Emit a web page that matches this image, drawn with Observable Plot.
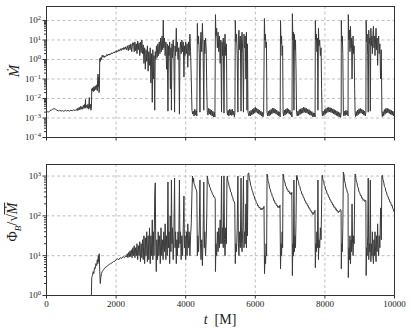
<!DOCTYPE html>
<html>
<head>
<meta charset="utf-8">
<script src="https://cdn.jsdelivr.net/npm/d3@7"></script>
<script src="https://cdn.jsdelivr.net/npm/@observablehq/plot@0.6"></script>
<style>
  body { margin: 0; background: #fff; }
  #wrap { position: relative; width: 412px; height: 333px; background: #fff; overflow: hidden; }
  #wrap svg { display: block; }
  .lab { position: absolute; font-family: "Liberation Serif", "DejaVu Serif", serif; color: #222; white-space: nowrap; }
  .rot { transform: translate(-50%, -50%) rotate(-90deg); }
  .ctr { transform: translate(-50%, -50%); }
</style>
</head>
<body>
<div id="wrap">
  <div id="top"></div>
  <div id="bot"></div>
  <div class="lab rot" style="left:14px;top:71px;font-size:15px;"><i>Ṁ</i></div>
  <div class="lab rot" style="left:14px;top:222px;font-size:14px;">Φ<sub style="font-size:9px;"><i>B</i></sub>/√<span style="border-top:1px solid #222;"><i>Ṁ</i></span></div>
  <div class="lab ctr" style="left:220px;top:320px;font-size:14px;"><i>t</i>&nbsp;&nbsp;[M]</div>
</div>
<script>
// ---- tick values / labels ----
const xTicks = [0, 2000, 4000, 6000, 8000, 10000];
const mdotTicks = [1e-4, 1e-3, 1e-2, 1e-1, 1, 10, 100];
const mdotTickExponents = ["−4", "−3", "−2", "−1", "0", "1", "2"];
const phiTicks = [1, 10, 100, 1000];
const phiTickExponents = ["0", "1", "2", "3"];

// ---- accretion rate: [t, log10(Mdot)] ----
const mdotSeries = [
[0,-2.72],[30,-2.68],[60,-2.7],[100,-2.62],[140,-2.6],[180,-2.55],[220,-2.52],[260,-2.55],[300,-2.6],[340,-2.64],[380,-2.6],[420,-2.65],[460,-2.62],[500,-2.66],[540,-2.6],[580,-2.64],[620,-2.61],[660,-2.65],[700,-2.6],[740,-2.63],[780,-2.58],[820,-2.62],[860,-2.55],[880,-2.62],[900,-2.5],[920,-2.6],[940,-2.45],[960,-2.58],[980,-2.4],[1000,-2.55],[1020,-2.42],[1040,-2.55],[1060,-2.35],[1080,-2.5],[1100,-2.3],[1110,-2.5],[1120,-2.05],[1130,-2.45],[1150,-2.35],[1170,-2.5],[1190,-2.3],[1210,-2.55],[1230,-1.95],[1240,-2.5],[1260,-2.3],[1275,-2.6],[1290,-2.5],
[1300,-1.5],[1315,-1.6],[1330,-1.45],[1345,-1.65],[1360,-1.4],[1380,-1.6],[1400,-1.35],[1420,-1.55],[1440,-1.3],[1460,-1.6],[1470,-1.1],[1480,-0.75],[1490,-1.4],[1500,-0.9],[1510,-1.7],[1520,-1.5],[1530,0.05],[1545,-0.1],[1560,0.1],[1580,0.0],[1600,0.22],[1620,0.12],[1640,0.2],[1660,0.1],[1680,0.18],[1700,0.14],[1725,0.25],[1750,0.18],[1775,0.28],[1800,0.22],[1825,0.3],[1850,0.26],[1875,0.34],[1900,0.3],[1925,0.38],[1950,0.33],[1975,0.42],[2000,0.36],[2025,0.46],[2050,0.4],[2075,0.5],[2100,0.43],[2125,0.55],[2150,0.46],[2175,0.58],[2200,0.5],[2225,0.62],[2250,0.52],[2275,0.65],[2300,0.5],[2325,0.7],[2350,0.45],[2375,0.75],[2400,0.5],[2425,0.8],[2450,0.4],[2475,0.85],
[2500,0.85],[2520,0.4],[2540,0.9],[2560,0.45],[2580,0.8],[2600,0.3],[2620,0.95],[2640,0.5],[2660,0.85],[2680,0.2],[2700,0.9],[2720,0.35],[2740,1.0],[2760,0.3],[2780,0.75],[2800,-0.2],[2820,0.6],[2840,-0.5],[2860,0.5],[2880,-0.1],[2900,0.7],[2920,-0.6],[2940,0.4],[2960,-0.3],[2980,0.6],[3000,-1.2],[3020,0.3],[3040,-2.2],[3055,0.5],[3070,-1.0],[3090,0.2],[3110,-2.6],[3125,0.4],[3140,0.0],[3160,0.7],[3180,0.1],[3200,0.8],[3220,0.2],[3240,0.9],[3260,0.3],[3280,1.1],[3300,0.4],[3320,1.2],[3340,0.5],[3355,2.0],[3370,0.6],[3390,1.1],[3410,0.2],[3430,0.9],[3450,-0.5],[3470,0.8],[3490,-2.65],[3505,0.7],[3520,0.2],[3540,0.9],[3560,-1.5],[3575,0.6],[3590,-2.6],[3605,0.8],[3620,0.1],[3640,1.0],[3660,0.3],[3680,-2.7],[3695,0.7],[3710,0.2],[3730,1.6],[3745,0.4],[3760,0.9],[3780,0.0],[3800,0.6],[3820,-2.8],[3835,0.5],[3850,0.9],[3870,0.3],[3890,1.0],[3910,0.4],[3930,0.9],[3950,-0.9],[3965,0.7],[3980,0.2],[4000,0.9],[4020,0.3],[4040,0.8],[4060,-0.4],[4080,0.9],[4100,0.2],[4120,1.3],[4140,0.4],[4160,-1.0],[4180,-2.6],[4200,-2.8],
[4220,-2.65],[4240,-2.9],[4260,-2.55],[4280,-2.85],[4300,-2.6],[4320,-2.9],
[4335,1.85],[4350,0.8],[4370,1.2],[4390,0.3],[4410,-2.7],[4425,0.9],[4440,1.4],[4460,0.4],[4480,1.85],[4500,0.6],[4520,-2.6],[4535,1.0],[4550,0.3],[4570,1.1],[4590,0.5],[4605,-1.5],[4620,-2.7],
[4640,-2.85],[4660,-2.5],[4680,-2.8],[4700,-2.55],[4720,-2.85],[4740,-2.6],[4760,-2.9],[4780,-2.65],[4800,-2.95],[4820,-2.7],[4840,-2.95],
[4855,2.3],[4870,1.2],[4890,1.6],[4910,0.6],[4930,1.4],[4950,0.4],[4970,1.2],[4990,-0.2],[5010,1.0],[5030,-2.7],[5045,0.9],[5060,0.2],[5080,1.1],[5100,-2.75],[5115,0.7],[5130,1.3],[5150,0.2],[5170,0.8],[5185,-2.6],
[5200,-2.85],[5220,-2.6],[5240,-2.9],[5260,-2.55],[5280,-2.85],[5300,-2.57],[5320,-2.87],[5340,-2.55],[5360,-2.85],[5380,-2.65],[5400,-2.95],[5415,-2.7],
[5425,2.0],[5440,0.9],[5460,1.3],[5480,0.2],[5500,-2.7],[5515,1.1],[5530,1.5],[5550,0.5],[5570,1.2],[5590,-2.65],[5605,1.0],[5620,1.4],[5640,0.3],[5660,-2.7],[5675,1.3],[5690,0.6],[5710,1.2],[5730,-1.0],[5745,1.4],[5760,-2.6],[5775,0.8],[5790,-2.7],
[5820,-2.9],[5840,-2.65],[5860,-2.9],[5880,-2.6],[5900,-2.85],[5920,-2.55],[5940,-2.8],[5960,-2.5],[5980,-2.75],[6000,-2.45],[6020,-2.7],[6040,-2.5],[6060,-2.75],[6080,-2.55],[6100,-2.8],[6120,-2.6],[6140,-2.85],[6160,-2.65],[6180,-2.9],[6200,-2.7],[6220,-2.95],[6240,-2.75],
[6262,2.1],[6275,1.0],[6290,1.3],[6305,0.6],[6320,0.9],[6335,-2.7],
[6355,-2.9],[6375,-2.65],[6395,-2.9],[6415,-2.6],[6435,-2.85],[6455,-2.55],[6475,-2.8],[6495,-2.5],[6515,-2.75],[6535,-2.5],[6555,-2.75],[6575,-2.55],[6595,-2.8],[6615,-2.6],[6635,-2.85],[6655,-2.65],[6675,-2.9],[6695,-2.7],[6715,-2.95],
[6725,2.0],[6740,0.8],[6755,1.2],[6770,0.2],[6785,0.7],[6798,-2.7],
[6815,-2.9],[6835,-2.6],[6855,-2.85],[6875,-2.55],[6895,-2.8],[6915,-2.5],[6935,-2.75],[6955,-2.55],[6975,-2.8],[6995,-2.6],[7015,-2.85],[7035,-2.7],[7055,-2.95],
[7065,2.35],[7080,1.0],[7095,1.4],[7110,-2.6],[7125,1.3],[7140,0.5],[7155,1.0],[7170,-0.5],[7185,-2.7],
[7205,-2.9],[7225,-2.65],[7245,-2.87],[7265,-2.57],[7285,-2.83],[7305,-2.53],[7325,-2.77],[7345,-2.5],[7365,-2.75],[7385,-2.45],[7405,-2.71],[7425,-2.47],[7445,-2.73],[7465,-2.5],[7485,-2.75],[7505,-2.55],[7525,-2.8],[7545,-2.57],[7565,-2.85],[7585,-2.63],[7605,-2.87],[7625,-2.67],[7645,-2.93],[7665,-2.73],[7685,-2.95],[7705,-2.75],[7718,-2.95],
[7725,2.0],[7740,1.0],[7755,1.3],[7770,0.4],[7785,1.1],[7800,-2.6],[7815,1.6],[7830,0.7],[7850,1.0],[7870,0.2],[7890,0.6],[7905,-1.5],[7918,-2.7],
[7930,-2.9],[7950,-2.65],[7970,-2.87],[7990,-2.57],[8010,-2.81],[8030,-2.51],[8050,-2.75],[8070,-2.47],[8090,-2.71],[8110,-2.45],[8130,-2.69],[8150,-2.47],[8170,-2.71],[8190,-2.5],[8210,-2.75],[8230,-2.53],[8250,-2.79],[8270,-2.57],[8290,-2.83],[8310,-2.61],[8330,-2.87],[8350,-2.65],[8370,-2.91],[8390,-2.69],[8410,-2.95],[8430,-2.73],[8450,-2.97],[8468,-2.75],
[8472,2.0],[8485,0.9],[8500,1.2],[8515,0.3],[8530,-2.7],
[8545,-2.9],[8565,-2.65],[8585,-2.87],[8605,-2.6],[8625,-2.83],[8645,-2.63],[8665,-2.9],
[8672,2.3],[8690,1.0],[8705,1.5],[8720,0.4],[8735,1.7],[8750,0.6],[8765,1.1],[8780,-1.0],[8795,0.8],[8810,1.2],[8825,0.3],[8840,0.7],[8855,-1.5],[8868,-2.7],
[8880,-2.93],[8900,-2.67],[8920,-2.89],[8940,-2.59],[8960,-2.83],[8980,-2.53],[9000,-2.77],[9020,-2.51],[9040,-2.75],[9060,-2.55],[9080,-2.79],[9100,-2.59],[9120,-2.85],[9140,-2.65],[9160,-2.9],[9178,-2.7],
[9185,2.0],[9200,0.9],[9215,1.3],[9230,0.2],[9245,-2.7],[9260,1.5],[9275,0.8],[9290,1.1],[9305,-2.65],[9320,1.6],[9335,0.7],[9350,1.2],[9365,0.3],[9380,1.3],[9395,1.7],[9410,0.6],[9425,1.2],[9440,0.2],[9455,1.0],[9470,1.6],[9485,0.5],[9500,1.1],[9515,-0.3],[9530,0.9],[9545,1.2],[9560,0.3],[9580,0.8],[9600,-1.0],[9620,0.5],[9638,-2.7],
[9650,-2.93],[9670,-2.67],[9690,-2.89],[9710,-2.57],[9730,-2.81],[9750,-2.51],[9770,-2.75],[9790,-2.5],[9810,-2.73],[9830,-2.53],[9850,-2.77],[9870,-2.57],[9890,-2.81],[9910,-2.61],[9930,-2.85],[9950,-2.65],[9970,-2.9],[9990,-2.67],[10000,-2.85]
];

// ---- normalised flux: [t, log10(Phi_B / sqrt(Mdot))] ----
const phiSeries = [
[1290,0.0],[1300,0.45],[1320,0.5],[1340,0.6],[1360,0.55],[1380,0.7],[1400,0.68],[1420,0.8],[1440,0.75],[1460,0.9],[1475,0.8],[1490,1.0],[1500,0.85],[1515,1.05],[1530,0.6],[1545,0.3],[1560,0.45],[1580,0.55],[1600,0.6],[1640,0.65],[1680,0.7],[1720,0.72],[1760,0.75],[1800,0.78],[1840,0.8],[1880,0.82],[1920,0.85],[1960,0.86],[2000,0.9],[2040,0.92],[2080,0.9],[2120,0.95],[2160,0.93],[2200,0.98],[2240,0.95],[2280,1.0],[2300,0.97],
[2320,1.05],[2340,0.95],[2360,1.08],[2380,0.97],[2400,1.12],[2420,0.98],[2440,1.15],[2460,0.95],[2480,1.2],[2500,1.0],[2520,1.25],[2540,0.95],[2560,1.2],[2580,1.0],[2600,1.3],[2620,0.9],[2640,1.25],[2660,1.0],[2680,1.35],[2700,0.85],[2720,1.3],[2740,0.95],[2760,1.4],[2780,0.9],[2800,1.5],[2820,0.8],[2840,1.45],[2860,1.0],[2880,1.6],[2900,0.85],[2920,1.5],[2940,0.9],[2960,1.7],[2980,0.8],[3000,1.5],[3020,1.0],[3040,1.9],[3055,0.9],[3070,1.6],[3090,1.0],[3110,2.5],[3125,2.83],[3140,1.2],[3155,0.6],[3170,1.4],[3190,0.9],[3210,1.6],[3230,1.0],[3250,1.5],[3270,0.8],[3290,1.7],[3310,1.0],[3330,1.4],[3350,0.9],[3370,1.6],[3390,1.1],[3410,1.8],[3430,0.9],[3450,1.5],[3470,1.0],[3490,2.85],[3505,1.2],[3520,1.6],[3540,0.8],[3555,2.0],[3575,1.1],[3590,2.9],[3605,1.3],[3620,1.7],[3640,0.9],[3660,1.5],[3680,2.95],[3695,1.2],[3710,1.6],[3730,0.8],[3745,1.4],[3760,1.0],[3780,1.6],[3800,1.2],[3820,2.9],[3835,1.3],[3850,1.6],[3870,0.9],[3890,1.5],[3910,1.0],[3930,1.7],[3950,2.5],[3965,1.2],[3980,1.5],[4000,0.9],[4020,1.6],[4040,1.0],[4060,1.8],[4080,1.2],[4100,1.6],[4120,1.0],[4140,1.5],[4160,1.8],[4180,2.6],[4195,3.0],[4210,2.85],[4225,2.95],[4240,2.8],[4260,2.77],[4280,2.7],[4300,2.67],[4320,2.6],
[4335,1.0],[4350,1.5],[4370,1.1],[4390,1.7],[4410,2.9],[4425,1.3],[4440,0.9],[4460,1.4],[4480,0.75],[4500,1.5],[4520,2.85],[4535,1.2],[4550,1.6],[4570,1.0],[4590,1.4],[4605,2.0],[4620,3.0],
[4635,2.92],[4650,2.83],[4670,2.8],[4690,2.72],[4710,2.7],[4730,2.62],[4750,2.61],[4770,2.54],[4790,2.53],[4810,2.47],[4830,2.47],[4848,2.43],
[4855,0.6],[4870,1.3],[4890,1.0],[4910,1.6],[4930,1.1],[4950,1.7],[4970,1.2],[4990,1.9],[5010,1.3],[5030,3.0],[5045,1.3],[5060,1.7],[5080,1.2],[5100,3.0],[5115,1.4],[5130,1.0],[5150,1.7],[5170,1.3],[5185,2.9],
[5195,3.0],[5210,2.88],[5230,2.84],[5250,2.73],[5270,2.7],[5290,2.6],[5310,2.59],[5330,2.5],[5350,2.47],[5370,2.38],[5390,2.37],[5410,2.3],
[5425,0.8],[5440,1.3],[5460,1.1],[5480,1.7],[5500,3.0],[5515,1.3],[5530,1.0],[5550,1.6],[5570,1.2],[5590,2.95],[5605,1.3],[5620,1.1],[5640,1.7],[5660,3.0],[5675,1.2],[5690,1.6],[5710,1.3],[5730,2.3],[5745,1.2],[5760,2.9],[5775,1.5],[5790,3.05],
[5810,3.08],[5830,2.93],[5850,2.87],[5870,2.76],[5890,2.72],[5910,2.63],[5930,2.6],[5950,2.51],[5970,2.5],[5990,2.41],[6010,2.4],[6030,2.33],[6050,2.32],[6070,2.25],[6090,2.26],[6110,2.2],[6130,2.22],[6150,2.16],[6170,2.19],[6190,2.15],[6210,2.2],[6230,2.18],[6250,2.24],
[6265,0.55],[6280,1.0],[6295,0.8],[6310,1.3],[6325,1.0],[6338,3.05],
[6350,3.0],[6370,2.86],[6390,2.82],[6410,2.7],[6430,2.67],[6450,2.58],[6470,2.57],[6490,2.48],[6510,2.47],[6530,2.38],[6550,2.39],[6570,2.31],[6590,2.32],[6610,2.26],[6630,2.27],[6650,2.21],[6670,2.24],[6690,2.2],[6710,2.27],
[6725,0.67],[6740,1.3],[6755,1.0],[6770,1.6],[6785,1.2],[6798,3.05],
[6810,3.0],[6830,2.88],[6850,2.85],[6870,2.75],[6890,2.74],[6910,2.66],[6930,2.67],[6950,2.6],[6970,2.62],[6990,2.56],[7010,2.58],[7030,2.53],[7050,2.59],
[7065,0.5],[7080,1.3],[7095,1.0],[7110,2.9],[7125,1.1],[7140,1.5],[7155,1.2],[7170,1.9],[7185,3.0],
[7200,3.02],[7220,2.9],[7240,2.87],[7260,2.76],[7280,2.74],[7300,2.64],[7320,2.62],[7340,2.54],[7360,2.54],[7380,2.46],[7400,2.46],[7420,2.38],[7440,2.38],[7460,2.31],[7480,2.32],[7500,2.25],[7520,2.26],[7540,2.19],[7560,2.2],[7580,2.13],[7600,2.14],[7620,2.08],[7640,2.09],[7660,2.03],[7680,2.09],[7700,2.08],[7715,2.14],
[7725,0.7],[7740,1.3],[7755,1.1],[7770,1.6],[7785,1.2],[7800,2.9],[7815,0.9],[7830,1.4],[7850,1.2],[7870,1.7],[7890,1.4],[7905,2.3],[7918,3.0],
[7925,3.02],[7945,2.9],[7965,2.87],[7985,2.76],[8005,2.74],[8025,2.64],[8045,2.64],[8065,2.55],[8085,2.55],[8105,2.47],[8125,2.47],[8145,2.4],[8165,2.4],[8185,2.33],[8205,2.34],[8225,2.27],[8245,2.28],[8265,2.21],[8285,2.23],[8305,2.16],[8325,2.18],[8345,2.12],[8365,2.14],[8385,2.08],[8405,2.12],[8425,2.1],[8445,2.16],[8465,2.13],
[8472,0.67],[8485,1.3],[8500,1.1],[8515,1.7],[8530,3.1],
[8545,3.05],[8565,2.88],[8585,2.82],[8605,2.7],[8625,2.67],[8645,2.58],[8665,2.57],
[8672,0.45],[8690,1.2],[8705,0.9],[8720,1.5],[8735,0.8],[8750,1.4],[8765,1.1],[8780,2.3],[8795,1.3],[8810,1.0],[8825,1.5],[8840,1.3],[8855,2.5],[8868,3.05],
[8880,3.02],[8900,2.88],[8920,2.84],[8940,2.73],[8960,2.7],[8980,2.6],[9000,2.59],[9020,2.51],[9040,2.52],[9060,2.44],[9080,2.45],[9100,2.39],[9120,2.41],[9140,2.36],[9160,2.4],[9178,2.38],
[9185,0.5],[9200,1.2],[9215,1.0],[9230,1.5],[9245,2.95],[9260,0.9],[9275,1.3],[9290,1.1],[9305,2.9],[9320,0.85],[9335,1.3],[9350,1.0],[9365,1.6],[9380,1.0],[9395,0.8],[9410,1.4],[9425,1.0],[9440,1.6],[9455,1.1],[9470,0.85],[9485,1.5],[9500,1.1],[9515,1.8],[9530,1.2],[9545,1.0],[9560,1.5],[9580,1.2],[9600,2.2],[9620,1.4],[9638,3.0],
[9650,3.02],[9670,2.9],[9690,2.85],[9710,2.74],[9730,2.72],[9750,2.62],[9770,2.6],[9790,2.51],[9810,2.5],[9830,2.42],[9850,2.42],[9870,2.34],[9890,2.34],[9910,2.26],[9930,2.27],[9950,2.18],[9970,2.17],[9990,2.1],[10000,2.14]
];

// ---- helpers ----
function minorTicks(lo, hi) {
  const out = [];
  for (let e = lo; e < hi; e++) for (let k = 2; k <= 9; k++) out.push(k * Math.pow(10, e));
  return out;
}
const labelMap = (ticks, exps) => { const m = new Map(ticks.map((t, i) => [t, "10|" + exps[i]])); return d => m.get(d) ?? ""; };

// turn "10|−4" tick labels into 10 with a real superscript tspan
function superscriptTicks(svg) {
  d3.select(svg).selectAll("text").each(function () {
    const s = this.textContent;
    if (s && s.includes("|")) {
      const [base, exp] = s.split("|");
      const t = d3.select(this);
      t.text(base);
      t.append("tspan").attr("dy", "-0.45em").attr("font-size", "6.5px").text(exp);
    }
  });
}

const gridStyle = { stroke: "#b0b0b0", strokeWidth: 0.8, strokeDasharray: "3,2.5" };
const lineStyle = { stroke: "#3a3a3a", strokeWidth: 1, clip: true };
const common = {
  width: 412, marginLeft: 46, marginRight: 18,
  style: { fontFamily: "'Liberation Serif', 'DejaVu Serif', serif", fontSize: "9px", color: "#222", background: "transparent" },
  x: { domain: [0, 10000] }
};

const topPlot = Plot.plot({
  ...common,
  height: 150, marginTop: 6, marginBottom: 13,
  y: { type: "log", domain: [1e-4, 520] },
  marks: [
    Plot.ruleX(xTicks.slice(1, -1), gridStyle),
    Plot.ruleY(mdotTicks.slice(1), gridStyle),
    Plot.line(mdotSeries, { x: d => d[0], y: d => Math.pow(10, d[1]), ...lineStyle }),
    Plot.frame({ stroke: "#333", strokeWidth: 1 }),
    Plot.axisX({ ticks: xTicks, tickFormat: () => "", tickSize: 3.5, label: null, stroke: "#333" }),
    Plot.axisY({ ticks: mdotTicks, tickFormat: labelMap(mdotTicks, mdotTickExponents), tickSize: 3.5, tickPadding: 2, label: null, stroke: "#333" }),
    Plot.axisY({ ticks: minorTicks(-4, 2), tickFormat: () => "", tickSize: 2, label: null, stroke: "#333" })
  ]
});

const botPlot = Plot.plot({
  ...common,
  height: 183, marginTop: 14, marginBottom: 38,
  y: { type: "log", domain: [1, 1950] },
  marks: [
    Plot.ruleX(xTicks.slice(1, -1), gridStyle),
    Plot.ruleY(phiTicks.slice(1), gridStyle),
    Plot.line(phiSeries, { x: d => d[0], y: d => Math.pow(10, d[1]), ...lineStyle }),
    Plot.frame({ stroke: "#333", strokeWidth: 1 }),
    Plot.axisX({ ticks: xTicks, tickFormat: d => String(d), tickSize: 3.5, tickPadding: 2, label: null, stroke: "#333" }),
    Plot.axisY({ ticks: phiTicks, tickFormat: labelMap(phiTicks, phiTickExponents), tickSize: 3.5, tickPadding: 2, label: null, stroke: "#333" }),
    Plot.axisY({ ticks: minorTicks(0, 3), tickFormat: () => "", tickSize: 2, label: null, stroke: "#333" })
  ]
});

superscriptTicks(topPlot);
superscriptTicks(botPlot);
document.getElementById("top").appendChild(topPlot);
document.getElementById("bot").appendChild(botPlot);
</script>
</body>
</html>
